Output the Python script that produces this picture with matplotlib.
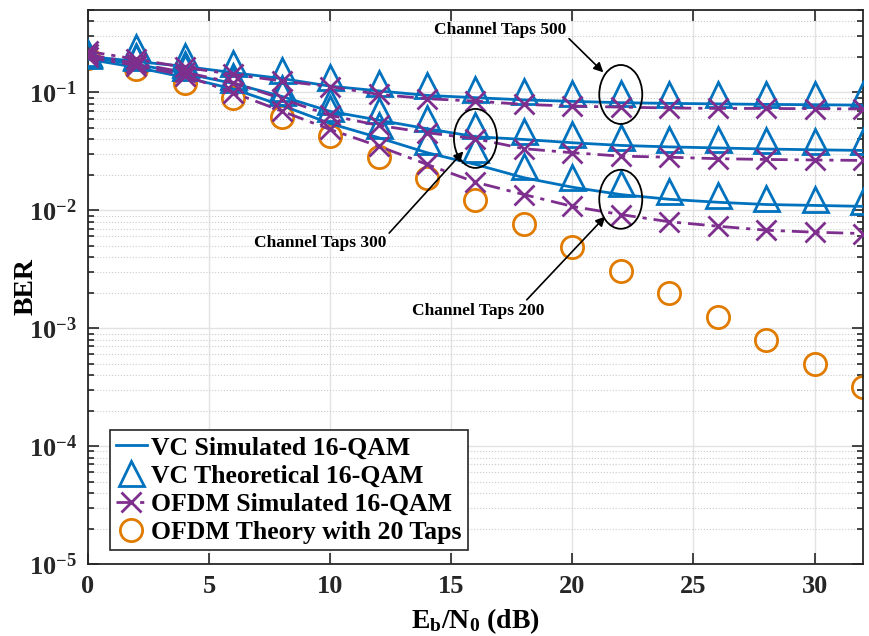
import numpy as np
import matplotlib
matplotlib.use('Agg')
import matplotlib.pyplot as plt
import matplotlib.ticker as ticker
from matplotlib.patches import Ellipse

# Eb/N0 points (dB)
ebn0 = [0, 2, 4, 6, 8, 10, 12, 14, 16, 18, 20, 22, 24, 26, 28, 30, 32]

# channel taps 500
vc_sim_500 = [0.202, 0.183, 0.166, 0.147, 0.131, 0.113, 0.103, 0.0943, 0.0902, 0.0864,
              0.0839, 0.0818, 0.0807, 0.0799, 0.0791, 0.0786, 0.0780]
vc_th_500 = [0.214, 0.241, 0.203, 0.176, 0.155, 0.136, 0.121, 0.115, 0.106, 0.103,
             0.0994, 0.0986, 0.0975, 0.0975, 0.0975, 0.0975, 0.0975]
ofdm_sim_500 = [0.223, 0.191, 0.163, 0.142, 0.125, 0.112, 0.0962, 0.0884, 0.0844, 0.0791,
                0.0765, 0.0750, 0.0738, 0.0731, 0.0731, 0.0727, 0.0724]

# channel taps 300
vc_sim_300 = [0.198, 0.173, 0.145, 0.119, 0.0925, 0.0690, 0.0582, 0.0492, 0.0421, 0.0399,
              0.0374, 0.0355, 0.0345, 0.0338, 0.0331, 0.0326, 0.0322]
vc_th_300 = [0.210, 0.202, 0.173, 0.139, 0.110, 0.0844, 0.0703, 0.0610, 0.0525, 0.0469,
             0.0443, 0.0421, 0.0399, 0.0399, 0.0391, 0.0386, 0.0386]
ofdm_sim_300 = [0.210, 0.176, 0.148, 0.121, 0.0884, 0.0638, 0.0525, 0.0455, 0.0405, 0.0333,
                0.0308, 0.0288, 0.0282, 0.0274, 0.0270, 0.0267, 0.0265]

# channel taps 200
vc_sim_200 = [0.191, 0.163, 0.134, 0.107, 0.0776, 0.0545, 0.0413, 0.0308, 0.0245, 0.0189,
              0.0157, 0.0136, 0.0124, 0.0117, 0.0112, 0.0110, 0.0108]
vc_th_200 = [0.206, 0.198, 0.163, 0.129, 0.1006, 0.0741, 0.0525, 0.0386, 0.0328, 0.0237,
             0.0192, 0.0169, 0.0145, 0.0136, 0.0128, 0.0125, 0.0121]
ofdm_sim_200 = [0.198, 0.169, 0.139, 0.0994, 0.0694, 0.0485, 0.0350, 0.0245, 0.0173, 0.0136,
                0.0108, 0.0092, 0.0080, 0.00733, 0.00678, 0.00652, 0.00635]

# OFDM theory, 20 taps
ofdm_theory = [0.195, 0.157, 0.121, 0.0902, 0.0622, 0.0426, 0.0285, 0.0189, 0.0122, 0.0077,
               0.00486, 0.00308, 0.00199, 0.00125, 0.000796, 0.000501, 0.000315]

xticks = [0, 5, 10, 15, 20, 25, 30]
yticks = [1e-5, 1e-4, 1e-3, 1e-2, 1e-1]
ytick_labels = [r'$\mathbf{10^{-5}}$', r'$\mathbf{10^{-4}}$', r'$\mathbf{10^{-3}}$',
                r'$\mathbf{10^{-2}}$', r'$\mathbf{10^{-1}}$']

labels = ['VC Simulated 16-QAM', 'VC Theoretical 16-QAM',
          'OFDM Simulated 16-QAM', 'OFDM Theory with 20 Taps']

c_blue = '#0072BD'
c_purple = '#7E2F8E'
c_orange = '#E07B00'

plt.rcParams['font.family'] = 'Liberation Serif'
plt.rcParams['font.weight'] = 'bold'
plt.rcParams['mathtext.fontset'] = 'custom'
plt.rcParams['mathtext.rm'] = 'Liberation Serif:bold'
plt.rcParams['mathtext.it'] = 'Liberation Serif:bold'
plt.rcParams['mathtext.bf'] = 'Liberation Serif:bold'

fig = plt.figure(figsize=(8.7, 6.36), dpi=100)
ax = fig.add_axes([0.1011, 0.1132, 0.8908, 0.8711])

dashdot = (0, (6, 2.5, 1.5, 2.5))
groups = [(vc_sim_500, vc_th_500, ofdm_sim_500),
          (vc_sim_300, vc_th_300, ofdm_sim_300),
          (vc_sim_200, vc_th_200, ofdm_sim_200)]
for i, (sim, th, ofdm) in enumerate(groups):
    ax.plot(ebn0, sim, '-', color=c_blue, lw=2,
            label=labels[0] if i == 0 else None, zorder=3)
    ax.plot(ebn0, th, linestyle='none', marker='^', ms=18, mfc='none',
            mec=c_blue, mew=2, label=labels[1] if i == 0 else None, zorder=4)
    ax.plot(ebn0, ofdm, linestyle=dashdot, color=c_purple, lw=2, marker='x',
            ms=15, mew=2, label=labels[2] if i == 0 else None, zorder=5)
ax.plot(ebn0, ofdm_theory, linestyle='none', marker='o', ms=16, mfc='none',
        mec=c_orange, mew=2, label=labels[3], zorder=2)

ax.set_yscale('log')
ax.set_xlim(0, 32)
ax.set_ylim(1e-5, 0.5)
ax.set_xticks(xticks)
ax.set_xticklabels([str(t) for t in xticks])
ax.set_yticks(yticks)
ax.set_yticklabels(ytick_labels)
ax.yaxis.set_minor_locator(ticker.LogLocator(base=10, subs=np.arange(2, 10), numticks=20))
ax.yaxis.set_minor_formatter(ticker.NullFormatter())
ax.tick_params(which='both', direction='in', top=True, right=True,
               labelsize=19, colors='#262626', width=1.2)
ax.tick_params(which='major', length=8, pad=8)
ax.tick_params(which='minor', length=4)
for lab in ax.get_xticklabels() + ax.get_yticklabels():
    lab.set_fontweight('bold')
for sp in ax.spines.values():
    sp.set_color('#262626')
    sp.set_linewidth(1.3)

ax.grid(which='major', color='#e2e2e2', linewidth=1)
ax.grid(which='minor', axis='y', color='#cccccc', linestyle=':', linewidth=0.8)
ax.set_axisbelow(True)

ax.set_xlabel(r'$\mathbf{E_b/N_0}$ (dB)', fontsize=20, fontweight='bold', labelpad=6)
ax.set_ylabel('BER', fontsize=20, fontweight='bold')
ax.yaxis.set_label_coords(-0.064, 0.5)

# ellipses around the groups (center in data coords, size in axes fraction)
ell_centers = [(22, 0.096), (16, 0.0407), (22, 0.0124)]
to_axes = ax.transAxes.inverted()
for cx, cy in ell_centers:
    fx, fy = to_axes.transform(ax.transData.transform((cx, cy)))
    ax.add_patch(Ellipse((fx, fy), width=43 / 775, height=59 / 554,
                         transform=ax.transAxes, fill=False, edgecolor='k',
                         lw=1.3, zorder=6))

ann = [('Channel Taps 500', (21.28, 0.148), (17.02, 0.336), (1.0, 0.15)),
       ('Channel Taps 300', (15.5, 0.0316), (9.59, 0.00533), (1.0, 0.9)),
       ('Channel Taps 200', (21.36, 0.00886), (16.12, 0.00141), (0.84, 0.95))]
for txt, tip, pos, rp in ann:
    ax.annotate(txt, xy=tip, xytext=pos, ha='center', va='center',
                fontsize=12.5, fontweight='bold', zorder=7,
                arrowprops=dict(arrowstyle='-|>', color='k', lw=1.2,
                                relpos=rp, shrinkA=0, shrinkB=0,
                                mutation_scale=14))

leg = ax.legend(loc='lower left', bbox_to_anchor=(0.028, 0.025), fontsize=18.5,
                handlelength=1.2, handletextpad=0.15, borderpad=0.25,
                labelspacing=0.2, borderaxespad=0, fancybox=False,
                framealpha=1, edgecolor='#262626')
leg.get_frame().set_linewidth(1.2)
for t in leg.get_texts():
    t.set_fontweight('bold')

fig.savefig('out.png', dpi=100)
